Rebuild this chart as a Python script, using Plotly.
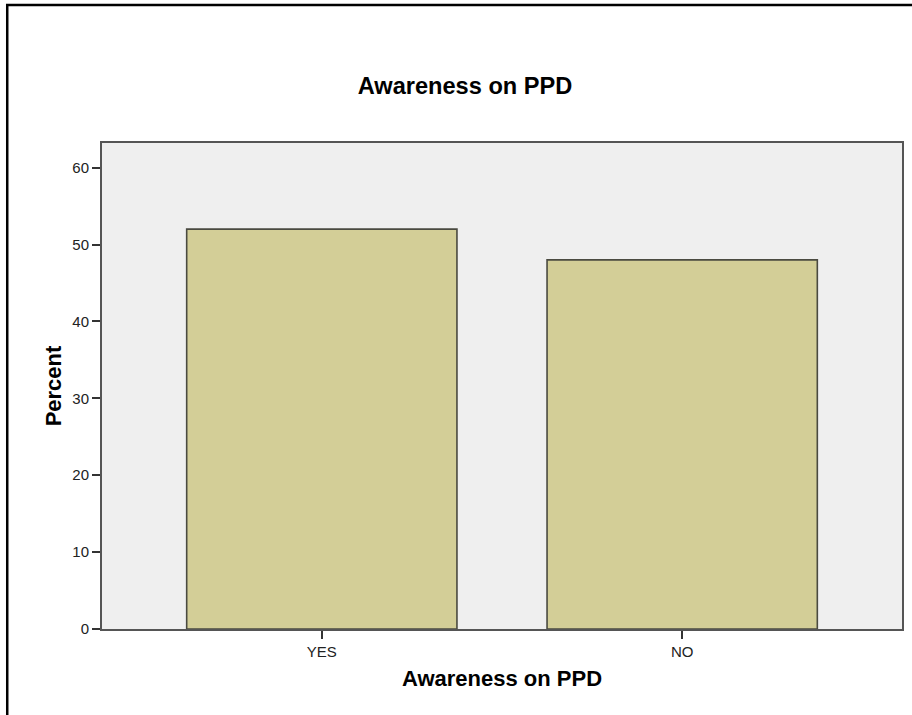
import plotly.graph_objects as go

categories = ["YES", "NO"]
percent = [52, 48]
y_ticks = [0, 10, 20, 30, 40, 50, 60]

FONT = "Arial, Liberation Sans, sans-serif"
W, H = 912, 715
L, R, T, B = 102, 8, 143, 86
pw, ph = W - L - R, H - T - B

fig = go.Figure()
fig.add_trace(go.Bar(
    x=categories, y=percent, width=0.75,
    marker=dict(color="#d3ce97", line=dict(color="#4a4a40", width=1.6)),
    hoverinfo="x+y",
))

def px_to_paper_x(px):
    return (px - L) / pw

def px_to_paper_y(py):
    return (H - B - py) / ph

fig.update_layout(
    width=W, height=H,
    margin=dict(l=L, r=R, t=T, b=B),
    paper_bgcolor="white",
    plot_bgcolor="#efefef",
    showlegend=False,
    font=dict(family=FONT, color="#111"),
    title=dict(text="<b>Awareness on PPD</b>", x=465 / W, xanchor="center",
               xref="container", y=1 - 86 / H, yanchor="middle",
               font=dict(size=23.6, family=FONT, color="#000")),
    xaxis=dict(
        type="category", range=[-0.61, 1.61],
        showgrid=False, zeroline=False,
        showline=True, linecolor="#555", linewidth=2, mirror=True,
        ticks="outside", ticklen=8, tickwidth=1.5, tickcolor="#333",
        tickfont=dict(size=15, family=FONT, color="#222"),
        title=dict(text="<b>Awareness on PPD</b>", standoff=12,
                   font=dict(size=22, family=FONT, color="#000")),
    ),
    yaxis=dict(
        range=[0, 63.2], tickvals=y_ticks,
        showgrid=False, zeroline=False,
        showline=True, linecolor="#555", linewidth=2, mirror=True,
        ticks="outside", ticklen=8, tickwidth=1.5, tickcolor="#333",
        tickfont=dict(size=15, family=FONT, color="#222"),
        title=dict(text="<b>Percent</b>", standoff=5,
                   font=dict(size=22, family=FONT, color="#000")),
    ),
    shapes=[dict(
        type="rect", xref="paper", yref="paper",
        x0=px_to_paper_x(7), x1=px_to_paper_x(918),
        y0=px_to_paper_y(722), y1=px_to_paper_y(5),
        line=dict(color="#000", width=2.5), fillcolor="rgba(0,0,0,0)",
        layer="above",
    )],
)

fig.write_html("out.html", config={"displayModeBar": False},
               post_script="document.body.style.margin='0';")
